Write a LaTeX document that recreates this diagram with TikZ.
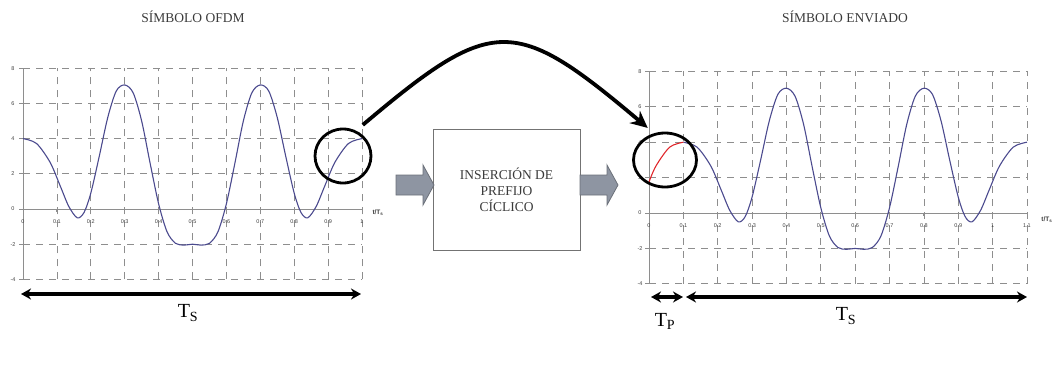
\documentclass[tikz,border=0pt]{standalone}
\usepackage{fontspec}
\setmainfont{Liberation Serif}
\newfontfamily\ticksfont{Liberation Sans}
\usetikzlibrary{arrows.meta,shapes.geometric}

\definecolor{gridgray}{HTML}{8E8E8E}
\definecolor{curveblue}{HTML}{4B4A8E}
\definecolor{prefixred}{HTML}{E0262B}
\definecolor{blockfill}{HTML}{8E95A2}
\definecolor{blockline}{HTML}{6B7079}
\definecolor{textgray}{HTML}{3A3A3A}

\tikzset{
  gridline/.style={gridgray, line width=0.7pt, dash pattern=on 7pt off 6pt},
  axisline/.style={gridgray, line width=0.9pt},
  ticklabel/.style={font=\ticksfont\fontsize{5.5}{6}\selectfont, text=black!75, inner sep=0pt},
  axistitle/.style={font=\ticksfont\bfseries\fontsize{6.5}{7}\selectfont, text=black!75, inner sep=0pt},
  signal/.style={line width=1.1pt, smooth, tension=0.5},
  lens/.style={draw, ellipse, line width=2.8pt, inner sep=0pt},
  span/.style={line width=3.4pt, {Stealth[length=10pt,width=11pt]}-{Stealth[length=10pt,width=11pt]}},
  blockarrow/.style={fill=blockfill, draw=blockline, line width=0.8pt},
  title/.style={font=\fontsize{13.5}{14}\selectfont, text=textgray},
  period/.style={font=\fontsize{20}{20}\selectfont, inner sep=0pt}
}

\newcommand{\ofdmsymbol}[1]{%
  \draw[signal, #1] plot coordinates {(0,4) (0.04,3.72) (0.08,2.65) (0.11,1.3)
    (0.135,0.15) (0.16,-0.5) (0.18,-0.2) (0.2,0.9) (0.225,3.0) (0.25,5.2)
    (0.275,6.7) (0.3,7.05) (0.325,6.6) (0.35,5.0) (0.375,2.6) (0.4,0.3)
    (0.425,-1.3) (0.45,-1.95) (0.475,-2.05) (0.5,-2) (0.525,-2.05) (0.55,-1.95)
    (0.575,-1.3) (0.6,0.3) (0.625,2.6) (0.65,5.0) (0.675,6.6) (0.7,7.05)
    (0.725,6.7) (0.75,5.2) (0.775,3.0) (0.8,0.9) (0.82,-0.2) (0.84,-0.5)
    (0.865,0.15) (0.89,1.3) (0.92,2.65) (0.96,3.72) (1,4)};}

\begin{document}
\begin{tikzpicture}[x=1pt, y=-1pt]
  \useasboundingbox (0,0) rectangle (1058,365);

  \node[title] (titleOFDM) at (193,17) {SÍMBOLO OFDM};
  \node[title] (titleSent) at (845,17) {SÍMBOLO ENVIADO};

  % simbolo OFDM
  \begin{scope}[shift={(23,209)}, x=339pt, y=17.6pt]
    \foreach \i in {1,...,10} \draw[gridline] (\i/10,-4) -- (\i/10,8);
    \foreach \v in {-4,-2,2,4,6,8} \draw[gridline] (0,\v) -- (1,\v);
    \draw[axisline] (0,-4) -- (0,8);
    \draw[axisline] (0,0) -- (1,0);
    \foreach \v [count=\k] in {-4,-2,0,2,4,6,8} {
      \draw[axisline] (0,\v) -- ++(-4pt,0);
      \node[ticklabel] (ytickL\k) at ([xshift=-10pt]0,\v) {\v};
    }
    \foreach \t [count=\k] in {0,0.1,0.2,0.3,0.4,0.5,0.6,0.7,0.8,0.9,1} {
      \draw[axisline] (\t,0) -- ++(0,-3pt);
      \node[ticklabel] (xtickL\k) at ([yshift=-13pt]\t,0) {\t};
    }
    \node[axistitle] (taxisL) at ([xshift=16pt,yshift=-4pt]1,0) {t/T\textsubscript{s}};
    \ofdmsymbol{curveblue}
  \end{scope}

  % simbolo enviado
  \begin{scope}[shift={(649,213)}, x=343.6pt, y=17.7pt]
    \foreach \i in {1,...,11} \draw[gridline] (\i/10,-4) -- (\i/10,8);
    \foreach \v in {-4,-2,2,4,6,8} \draw[gridline] (0,\v) -- (1.1,\v);
    \draw[axisline] (0,-4) -- (0,8);
    \draw[axisline] (0,0) -- (1.1,0);
    \foreach \v [count=\k] in {-4,-2,0,2,4,6,8} {
      \draw[axisline] (0,\v) -- ++(-4pt,0);
      \node[ticklabel] (ytickR\k) at ([xshift=-9pt]0,\v) {\v};
    }
    \foreach \t [count=\k] in {0,0.1,0.2,0.3,0.4,0.5,0.6,0.7,0.8,0.9,1,1.1} {
      \draw[axisline] (\t,0) -- ++(0,-3pt);
      \node[ticklabel] (xtickR\k) at ([yshift=-13pt]\t,0) {\t};
    }
    \node[axistitle] (taxisR) at ([xshift=20pt,yshift=-7pt]1.1,0) {t/T\textsubscript{s}};
    \begin{scope}[xshift=34.36pt]
      \ofdmsymbol{curveblue}
    \end{scope}
    \draw[signal, prefixred] plot coordinates {(0,1.75) (0.02,2.65) (0.06,3.72) (0.1,4)};
  \end{scope}

  \node[lens, minimum width=56pt, minimum height=54pt] (lensOFDM) at (343,156) {};
  \node[lens, minimum width=63pt, minimum height=54pt] (lensSent) at (665,160) {};
  \draw[line width=3.8pt, -{Stealth[length=17pt,width=16pt]}]
    ([shift={(-1pt,11pt)}]lensOFDM.north east) .. controls (493,15) and (514,15)
    .. ([shift={(6pt,12pt)}]lensSent.north west);

  \node[draw=black!55, line width=1pt, minimum width=147pt, minimum height=121pt,
    align=center, font=\fontsize{13.5}{16}\selectfont, text=textgray]
    (prefixbox) at (506.5,189.5) {INSERCIÓN DE\\PREFIJO\\CÍCLICO};
  \filldraw[blockarrow] (396,175) -- (423,175) -- (423,165) -- (434,185)
    -- (423,205) -- (423,195) -- (396,195) -- cycle;
  \filldraw[blockarrow] (580,175) -- (607,175) -- (607,165) -- (618,185)
    -- (607,205) -- (607,195) -- (580,195) -- cycle;

  \coordinate (spanOFDMa) at (21,294);
  \coordinate (spanOFDMb) at (361,294);
  \coordinate (spanPa) at (651,297);
  \coordinate (spanPb) at (683,297);
  \coordinate (spanSa) at (686,297);
  \coordinate (spanSb) at (1027,297);
  \draw[span] (spanOFDMa) -- (spanOFDMb);
  \draw[span] (spanPa) -- (spanPb);
  \draw[span] (spanSa) -- (spanSb);
  \node[period] (tsOFDM) at (188,313) {T\textsubscript{S}};
  \node[period] (tpSent) at (665,321) {T\textsubscript{P}};
  \node[period] (tsSent) at (846,316) {T\textsubscript{S}};
\end{tikzpicture}
\end{document}
